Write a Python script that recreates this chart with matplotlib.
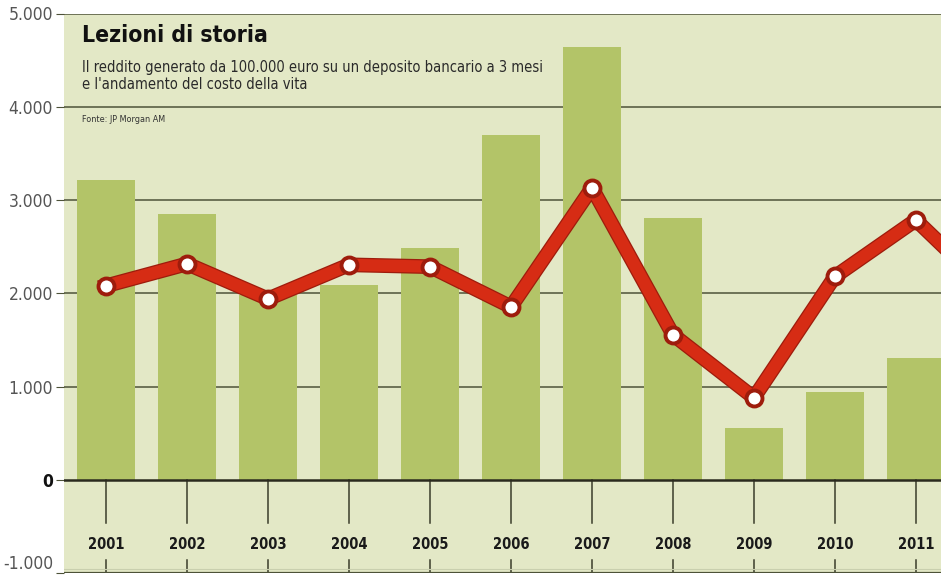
import numpy as np
import matplotlib
matplotlib.use("Agg")
import matplotlib.pyplot as plt
import matplotlib.patheffects as pe

# Data
years = [2001, 2002, 2003, 2004, 2005, 2006, 2007, 2008, 2009, 2010, 2011, 2012]
income = [3210, 2850, 1980, 2090, 2485, 3700, 4640, 2805, 557, 945, 1310, 0]
inflation = [2080, 2315, 1940, 2305, 2285, 1855, 3130, 1555, 880, 2180, 2785, 1950]
yticks = [-1000, 0, 1000, 2000, 3000, 4000, 5000]
ytick_labels = ["-1.000", "0", "1.000", "2.000", "3.000", "4.000", "5.000"]

BG = "#e3e8c6"
BAR = "#b3c468"
RED = "#d62c14"
DARKRED = "#9e1c0c"
GRID = "#4d5238"

FONT = dict(family="DejaVu Sans", stretch="condensed")

fig = plt.figure(figsize=(9.41, 5.81), dpi=100)
ax = fig.add_axes([64 / 941, 1 - 573 / 581, 1 - 64 / 941, (573 - 13.5) / 581])
ax.set_facecolor(BG)

ax.set_xlim(2000.48, 2011.31)
ax.set_ylim(-1000, 5000)

# gridlines
for v in yticks[2:]:
    ax.axhline(v, color=GRID, lw=1.1, zorder=1)
ax.axhline(0, color="#2a2a1e", lw=1.8, zorder=4)
ax.axhline(-1000, color=GRID, lw=1.6, zorder=4)
ax.axhline(-960, color="#c9cfae", lw=0.8, zorder=4)

# bars
ax.bar(years, income, width=0.71, color=BAR, zorder=2)

# year ticks and labels
for y in years[:-1]:
    ax.plot([y, y], [0, -460], color="#3a3d2a", lw=1.1, zorder=3)
    ax.plot([y, y], [-860, -1000], color="#3a3d2a", lw=1.1, zorder=3)
    ax.text(y, -690, str(y), ha="center", va="center", fontsize=10.5,
            fontweight="bold", color="#1a1a1a", zorder=5, **FONT)

# line with dark outline, markers drawn on top
ax.plot(years, inflation, color=RED, lw=8.8, zorder=6, solid_joinstyle="round",
        path_effects=[pe.Stroke(linewidth=10.6, foreground=DARKRED), pe.Normal()])
ax.plot(years, inflation, linestyle="none", zorder=7,
        marker="o", markersize=11.5, markerfacecolor="white",
        markeredgecolor=DARKRED, markeredgewidth=2.8)

# axes styling
ax.set_xticks([])
ax.set_yticks(yticks)
ax.set_yticklabels(ytick_labels, fontsize=12.5, color="#555555", **FONT)
for lbl in ax.get_yticklabels():
    if lbl.get_text() == "0":
        lbl.set_fontweight("bold")
        lbl.set_color("#111111")
    if lbl.get_text() == "-1.000":
        # sits on the bottom edge: keep it inside the picture
        lbl.set_va("bottom")
ax.tick_params(axis="y", length=6, color=GRID, pad=2)
for s in ax.spines.values():
    s.set_visible(False)

# titles
ax.text(0.021, 0.961, "Lezioni di storia", transform=ax.transAxes,
        fontsize=16.5, fontweight="bold", color="#111111",
        va="center", ha="left", zorder=8, **FONT)
ax.text(0.021, 0.917, "Il reddito generato da 100.000 euro su un deposito bancario a 3 mesi\n"
        "e l'andamento del costo della vita", transform=ax.transAxes,
        fontsize=10.5, color="#2a2a2a", va="top", ha="left",
        linespacing=1.2, zorder=8, **FONT)
ax.text(0.021, 0.81, "Fonte: JP Morgan AM", transform=ax.transAxes,
        fontsize=6.5, color="#333333", va="center", ha="left", zorder=8, **FONT)

fig.savefig("out.png", dpi=100)
